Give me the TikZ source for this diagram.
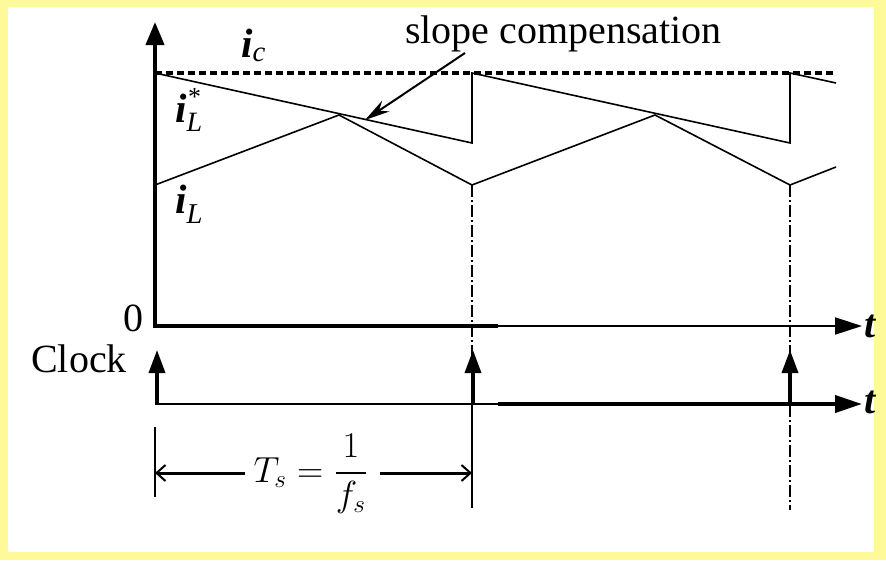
\documentclass[tikz,border=0pt]{standalone}
\usepackage[no-math]{fontspec}
\usepackage{amsmath}
\newfontfamily\lib{Liberation Serif}
\usetikzlibrary{arrows.meta,calc}
\definecolor{frameyellow}{RGB}{255,250,153}
\begin{document}
\begin{tikzpicture}[x=1pt,y=-1pt,
  wave/.style={line width=1.6pt},
  dashdot/.style={line width=1.5pt, dash pattern=on 12pt off 3pt on 2pt off 3pt},
  bigtip/.style={-{Triangle[length=27pt,width=17pt]}},
  clocktip/.style={line width=3.5pt,-{Triangle[length=23pt,width=16pt]}},
  lbl/.style={font=\lib\fontsize{40}{42}\selectfont, inner sep=0pt},
  tlbl/.style={font=\lib\bfseries\itshape\fontsize{40}{42}\selectfont, inner sep=0pt, anchor=base west},
  ilbl/.style={font=\lib\fontsize{41}{43}\selectfont, inner sep=0pt, anchor=base west},
  dimarrow/.style={line width=3pt,-{Straight Barb[length=9pt,width=16pt,line width=2pt]}}
]
\useasboundingbox (0,0) rectangle (886,560);
\fill[frameyellow] (0,0) rectangle (886,560);
\fill[white] (8,7) rectangle (874,552);

% coordinates
\coordinate (o) at (155,326);
\coordinate (ytop) at (155,22);
\coordinate (xmid) at (498,326);
\coordinate (xend) at (862,326);
\coordinate (c0) at (155,404);
\coordinate (cmid) at (498,404);
\coordinate (cend) at (862,404);

% dashed reference i_c
\draw[line width=3.2pt, dash pattern=on 7pt off 4pt] (155,73) -- (836,73);

% waveforms
\draw[wave] (155,73) -- (472,143) -- (472,73) -- (790,143) -- (790,73) -- (836,83);
\draw[wave] (155,185) -- (339,115) -- (472,185) -- (655,115) -- (790,185) -- (836,167);

% dash-dot verticals
\draw[dashdot] (472,185) -- (472,404);
\draw[line width=1.5pt] (472,404) -- (472,508);
\draw[dashdot] (790,185) -- (790,510);

% axes
\draw[line width=4pt, -{Triangle[length=23pt,width=18pt]}] ($(o)+(0,2)$) -- (ytop);
\draw[line width=4.5pt] ($(o)+(-2,0)$) -- (xmid);
\draw[line width=2pt, bigtip] (xmid) -- (xend);
\draw[line width=2.5pt] (c0) -- (cmid);
\draw[line width=4pt, bigtip] (cmid) -- (cend);

% clock pulses
\draw[clocktip] (157,404) -- (157,350);
\draw[clocktip] (473,404) -- (473,350);
\draw[clocktip] (790,404) -- (790,350);

% labels
\node[lbl, anchor=base west] (slope) at (405,43) {slope compensation};
\coordinate (sstart) at (465,53);
\coordinate (stip) at (365,120);
\draw[line width=2pt, -{Stealth[length=25pt,width=13pt]}] (sstart) -- (stip);

\node[lbl, anchor=base east] (zero) at (144,331) {0};
\node[lbl, anchor=base west] (clock) at (31,372) {Clock};
\node[tlbl] (t1) at (864,337) {t};
\node[tlbl] (t2) at (864,413) {t};

\node[ilbl] (ic) at (241,57) {$\text{\bfseries\itshape i}_{\text{\itshape c}}$};
\node[ilbl] (iLs) at (175,122) {{\bfseries\itshape i}\rlap{\kern1.5pt\raisebox{17pt}{\fontsize{26}{26}\selectfont *}}\raisebox{-9pt}{\fontsize{28}{28}\selectfont\itshape L}};
\node[ilbl] (iL) at (175,213) {$\text{\bfseries\itshape i}_{\text{\itshape L}}$};

% period dimension
\node[inner sep=0pt, anchor=base, scale=2.1, font=\fontsize{17}{20}\selectfont] (ts) at (311,482) {$T_s=\dfrac{1}{f_s}$};
\draw[line width=2pt] (155,427) -- (155,497);
\coordinate (dl) at (155,473);
\coordinate (dr) at (472,473);
\coordinate (dls) at (245,473);
\coordinate (drs) at (380,473);
\draw[dimarrow] (dls) -- (dl);
\draw[dimarrow] (drs) -- (dr);
\end{tikzpicture}
\end{document}
